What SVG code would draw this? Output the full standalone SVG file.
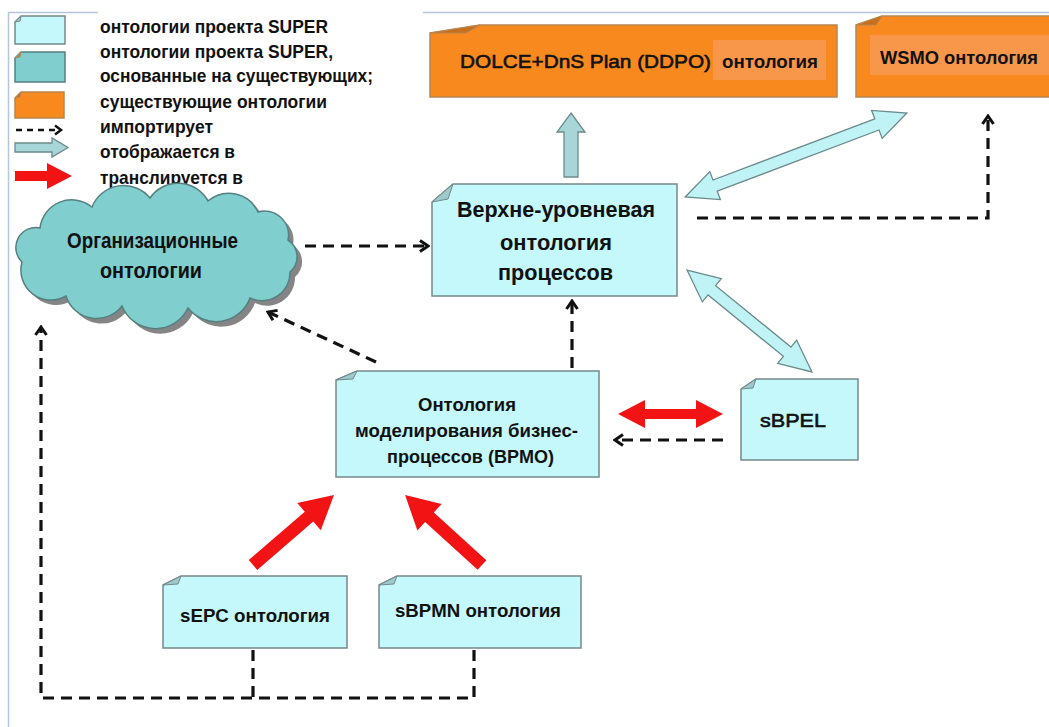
<svg xmlns="http://www.w3.org/2000/svg" width="1049" height="727" viewBox="0 0 1049 727">
<style>
.bg{fill:#ffffff}
.border{stroke:#b4c6dc;stroke-width:1.5;fill:none}
.note{fill:#c4f8fa;stroke:#74898b;stroke-width:1.5}
.fold{fill:#9dc9cc;stroke:#74898b;stroke-width:1}
.teal{fill:#80cece;stroke:#557f80;stroke-width:1.5}
.orange{fill:#f7891f;stroke:#b8864f;stroke-width:1.5}
.ofold{fill:#c66f1c;stroke:#b8864f;stroke-width:1}
.olight{fill:#f8964a}
.t{font-family:"Liberation Sans Narrow","Liberation Sans",Arial,sans-serif;font-weight:bold;fill:#111}
.tr{font-family:"Liberation Sans",Arial,sans-serif;font-weight:normal;fill:#111;stroke:#111;stroke-width:0.6}
.dash{fill:none;stroke:#111;stroke-width:3.2;stroke-dasharray:11 7}
.map{fill:#bff3f6;stroke:#6b8a8c;stroke-width:1.3}
.map2{fill:#a8d5d7;stroke:#6b8a8c;stroke-width:1.3}
.red{fill:#f21414;stroke:none}
</style>
<defs>
<marker id="chev" markerUnits="userSpaceOnUse" viewBox="-12 -8 14 16" markerWidth="14" markerHeight="16" refX="0" refY="0" orient="auto">
<path d="M -8,-5.5 L 0,0 L -8,5.5" fill="none" stroke="#111" stroke-width="3" stroke-linejoin="miter"/>
</marker>
</defs>
<rect class="bg" x="0" y="0" width="1049" height="727"/>
<line class="border" x1="8" y1="12.5" x2="98" y2="12.5"/>
<line class="border" x1="423" y1="12.5" x2="1049" y2="12.5"/>
<line class="border" x1="8.5" y1="12" x2="8.5" y2="727"/>

<g id="legend">
<path class="note" d="M15,22 L21,16 L65,16 L65,44 L15,44 Z"/>
<path class="fold" d="M15,22 L21,16 L20,21 Z"/>
<path class="teal" d="M15,58 L21,52 L65,52 L65,82 L15,82 Z"/>
<path class="ofold" d="M15,58 L21,52 L20,57 Z" style="fill:#5ea3a3"/>
<path class="orange" d="M15,98 L21,92 L64,92 L64,118 L15,118 Z"/>
<path class="ofold" d="M15,98 L21,92 L20,97 Z"/>
<line x1="16" y1="130" x2="56" y2="130" stroke="#111" stroke-width="2.5" stroke-dasharray="6 5"/>
<path d="M55,125.5 L61,130 L55,134.5" fill="none" stroke="#111" stroke-width="2.5"/>
<path class="map2" d="M15,143 L52,143 L52,138 L68,147.5 L52,157 L52,152 L15,152 Z"/>
<path class="red" d="M15,171 L47,171 L47,163 L72,176 L47,189 L47,181 L15,181 Z"/>
<text class="t" x="100" y="33" font-size="18.5" textLength="228" lengthAdjust="spacingAndGlyphs">онтологии проекта SUPER</text>
<text class="t" x="100" y="58" font-size="18.5" textLength="233" lengthAdjust="spacingAndGlyphs">онтологии проекта SUPER,</text>
<text class="t" x="100" y="82" font-size="18.5" textLength="273" lengthAdjust="spacingAndGlyphs">основанные на существующих;</text>
<text class="t" x="100" y="108" font-size="18.5" textLength="227" lengthAdjust="spacingAndGlyphs">существующие онтологии</text>
<text class="t" x="100" y="133" font-size="18.5" textLength="113" lengthAdjust="spacingAndGlyphs">импортирует</text>
<text class="t" x="100" y="158" font-size="18.5" textLength="135" lengthAdjust="spacingAndGlyphs">отображается в</text>
<text class="t" x="100" y="184" font-size="18.5" textLength="143" lengthAdjust="spacingAndGlyphs">транслируется в</text>
</g>

<g id="connectors">
<path class="dash" d="M305,246 L428,246" marker-end="url(#chev)"/>
<path class="dash" d="M376,362 L268,312" marker-end="url(#chev)"/>
<path class="dash" d="M572,368 L572,301" marker-end="url(#chev)"/>
<path class="dash" d="M697,218 L988,218 L988,116" marker-end="url(#chev)"/>
<path class="dash" d="M723,440 L615,440" marker-end="url(#chev)"/>
<path class="dash" d="M253,650 L253,698"/>
<path class="dash" d="M474,650 L474,698 L41,698 L41,327" marker-end="url(#chev)"/>
<path class="map2" d="M571,113 L585,132 L578,132 L578,177 L564,177 L564,132 L557,132 Z"/>
<path class="map" transform="translate(796,155) rotate(-20.73)" d="M-118.5,0 L-86.5,-15 L-86.5,-6 L86.5,-6 L86.5,-15 L118.5,0 L86.5,15 L86.5,6 L-86.5,6 L-86.5,15 Z"/>
<path class="map" transform="translate(749.5,321) rotate(39.2)" d="M-80.6,0 L-48.6,-15 L-48.6,-6 L48.6,-6 L48.6,-15 L80.6,0 L48.6,15 L48.6,6 L-48.6,6 L-48.6,15 Z"/>
<path class="red" d="M618,414 L645,400 L645,409 L696,409 L696,400 L723,414 L696,428 L696,419 L645,419 L645,428 Z"/>
<path class="red" transform="translate(253,565) rotate(-40.8)" d="M0,-6.5 L74,-6.5 L74,-18 L107,0 L74,18 L74,6.5 L0,6.5 Z"/>
<path class="red" transform="translate(482,565) rotate(-137.7)" d="M0,-6.5 L71,-6.5 L71,-18 L104,0 L71,18 L71,6.5 L0,6.5 Z"/>
</g>

<g id="dolce">
<path class="orange" d="M430,33 L480,25 L837,25 L837,97 L430,97 Z"/>
<path class="ofold" d="M430,33 L480,25 L466,33 Z"/>
<rect class="olight" x="713" y="40" width="113" height="40"/>
<text class="tr" x="460" y="68" font-size="19" textLength="251" lengthAdjust="spacingAndGlyphs">DOLCE+DnS Plan (DDPO)</text>
<text class="t" x="722" y="68" font-size="18.5" textLength="96" lengthAdjust="spacingAndGlyphs">онтология</text>
</g>

<g id="wsmo">
<path class="orange" d="M856,25 L882,16 L1052,16 L1052,97 L856,97 Z"/>
<path class="ofold" d="M856,25 L882,16 L876,25 Z"/>
<rect class="olight" x="870" y="35" width="180" height="40"/>
<text class="t" x="880" y="64" font-size="19" textLength="158" lengthAdjust="spacingAndGlyphs">WSMO онтология</text>
</g>

<g id="org">
<path transform="translate(5,5)" fill="#858585" d="M22,262 A20 20 0 0 1 40,228 A32 32 0 0 1 92,207 A34 34 0 0 1 150,198 A34 34 0 0 1 208,201 A32 32 0 0 1 258,212 A24 24 0 0 1 288,240 A20 20 0 0 1 290,272 A28 28 0 0 1 250,298 A36 36 0 0 1 188,308 A36 36 0 0 1 122,306 A32 32 0 0 1 66,296 A30 30 0 0 1 22,262 Z"/>
<path class="teal" d="M22,262 A20 20 0 0 1 40,228 A32 32 0 0 1 92,207 A34 34 0 0 1 150,198 A34 34 0 0 1 208,201 A32 32 0 0 1 258,212 A24 24 0 0 1 288,240 A20 20 0 0 1 290,272 A28 28 0 0 1 250,298 A36 36 0 0 1 188,308 A36 36 0 0 1 122,306 A32 32 0 0 1 66,296 A30 30 0 0 1 22,262 Z"/>
<text class="t" x="152.5" y="248" font-size="22" text-anchor="middle" textLength="171" lengthAdjust="spacingAndGlyphs">Организационные</text>
<text class="t" x="151" y="278" font-size="22" text-anchor="middle" textLength="102" lengthAdjust="spacingAndGlyphs">онтологии</text>
</g>

<g id="upper">
<path class="note" d="M432,202 L453,184 L677,184 L677,296 L432,296 Z"/>
<path class="fold" d="M432,202 L453,184 L448,199 Z"/>
<text class="t" x="556" y="217" font-size="22" text-anchor="middle" textLength="198" lengthAdjust="spacingAndGlyphs">Верхне-уровневая</text>
<text class="t" x="556" y="250" font-size="22" text-anchor="middle" textLength="112" lengthAdjust="spacingAndGlyphs">онтология</text>
<text class="t" x="555.5" y="280" font-size="22" text-anchor="middle" textLength="115" lengthAdjust="spacingAndGlyphs">процессов</text>
</g>

<g id="bpmo">
<path class="note" d="M336,380 L357,371 L599,371 L599,477 L336,477 Z"/>
<path class="fold" d="M336,380 L357,371 L353,379 Z"/>
<text class="t" x="467" y="411" font-size="18.5" text-anchor="middle" textLength="98" lengthAdjust="spacingAndGlyphs">Онтология</text>
<text class="t" x="466.5" y="437" font-size="18.5" text-anchor="middle" textLength="223" lengthAdjust="spacingAndGlyphs">моделирования бизнес-</text>
<text class="t" x="470.5" y="463" font-size="18.5" text-anchor="middle" textLength="167" lengthAdjust="spacingAndGlyphs">процессов (BPMO)</text>
</g>

<g id="sbpel">
<path class="note" d="M741,389 L756,379 L858,379 L858,460 L741,460 Z"/>
<path class="fold" d="M741,389 L756,379 L753,388 Z"/>
<text class="tr" x="760" y="427" font-size="19" textLength="66" lengthAdjust="spacingAndGlyphs">sBPEL</text>
</g>

<g id="sepc">
<path class="note" d="M163,585 L181,576 L347,576 L347,648 L163,648 Z"/>
<path class="fold" d="M163,585 L181,576 L178,584 Z"/>
<text class="t" x="180" y="622" font-size="18.5" textLength="150" lengthAdjust="spacingAndGlyphs">sEPC онтология</text>
</g>

<g id="sbpmn">
<path class="note" d="M379,585 L397,576 L581,576 L581,648 L379,648 Z"/>
<path class="fold" d="M379,585 L397,576 L394,584 Z"/>
<text class="t" x="395" y="617" font-size="18.5" textLength="166" lengthAdjust="spacingAndGlyphs">sBPMN онтология</text>
</g>
</svg>
